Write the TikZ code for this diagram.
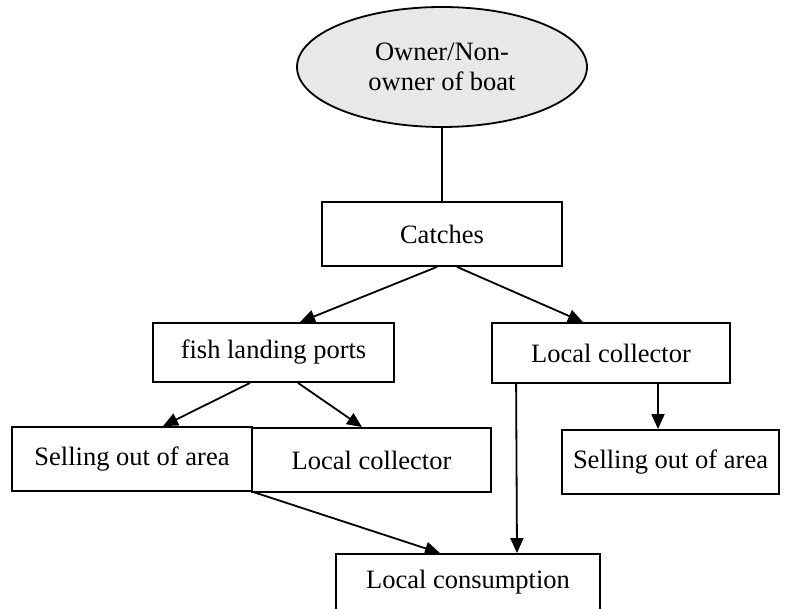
\documentclass[tikz,border=0pt]{standalone}
\usepackage{fontspec}
\setmainfont{Liberation Serif}
\usetikzlibrary{shapes.geometric,arrows.meta,calc}
\definecolor{ovalfill}{RGB}{232,232,232}
\begin{document}
\begin{tikzpicture}[x=1pt,y=-1pt,
  every node/.style={font=\fontsize{26.5}{30}\selectfont, inner sep=0pt},
  box/.style={draw, line width=1.8pt, rectangle},
  link/.style={line width=1.8pt},
  arr/.style={link, -{Triangle[length=15pt,width=13pt]}}]
\useasboundingbox (0,0) rectangle (790,609);
% owner
\node[draw, line width=1.8pt, ellipse, fill=ovalfill, minimum width=290pt, minimum height=120pt, align=center]
  (owner) at (442,67) {Owner/Non-\\owner of boat};
% boxes
\node[box, minimum width=240pt, minimum height=64pt] (catch) at (442,234) {Catches};
\node[box, minimum width=241pt, minimum height=59pt] (port) at (273.5,352.5) {fish landing ports};
\node[box, minimum width=238pt, minimum height=60pt] (colR) at (611,353) {Local collector};
\node[box, minimum width=240pt, minimum height=64pt] (sellL) at (132,459) {Selling out of area};
\node[box, minimum width=239pt, minimum height=64pt] (colM) at (371.5,460) {Local collector};
\node[box, minimum width=217pt, minimum height=64pt] (sellR) at (670.5,462) {Selling out of area};
\node[box, minimum width=264pt, minimum height=56pt] (cons) at (468,582) {Local consumption};
% connectors
\draw[link] (owner.south) -- (catch.north);
\draw[arr] ($(catch.south)+(-5,0)$) -- ($(port.north)+(26.5,0)$);
\draw[arr] ($(catch.south)+(15,0)$) -- ($(colR.north)+(-28,0)$);
\draw[arr] ($(port.south)+(-23.5,0)$) -- ($(sellL.north)+(31,0)$);
\draw[arr] ($(port.south)+(24.5,0)$) -- ($(colM.north)+(-9.5,0)$);
\draw[arr] ($(colR.south)+(47,0)$) -- ($(sellR.north)+(-12.5,0)$);
\draw[arr] ($(colR.south west)+(25,0)$) -- ($(cons.north)+(49,0)$);
\draw[arr] (sellL.south east) -- ($(cons.north)+(-28,0)$);
\end{tikzpicture}
\end{document}
